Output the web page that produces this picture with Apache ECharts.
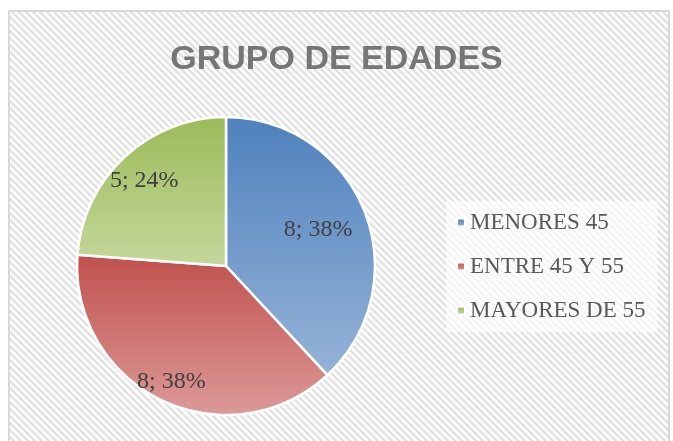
<!DOCTYPE html>
<html>
<head>
<meta charset="utf-8">
<script src="https://cdn.jsdelivr.net/npm/echarts@6/dist/echarts.min.js"></script>
<style>
  html, body { margin: 0; padding: 0; background: #fff; }
  #chart { width: 673px; height: 441px; }
</style>
</head>
<body>
<div id="chart"></div>
<script>
// datos del grafico
var categorias = ['MENORES 45', 'ENTRE 45 Y 55', 'MAYORES DE 55'];
var valores = [8, 8, 5];

// fondo rayado
var tile = document.createElement('canvas');
tile.width = 7;
tile.height = 7;
var ctx = tile.getContext('2d');
ctx.fillStyle = '#ffffff';
ctx.fillRect(0, 0, 7, 7);
ctx.strokeStyle = '#e2e2e2';
ctx.lineWidth = 2.4;
ctx.beginPath();
ctx.moveTo(-1, -1); ctx.lineTo(8, 8);
ctx.moveTo(-8, -1); ctx.lineTo(1, 8);
ctx.moveTo(6, -1); ctx.lineTo(15, 8);
ctx.stroke();

function grad(a, b) {
    return {
        type: 'linear', x: 0, y: 0, x2: 0, y2: 1,
        colorStops: [{ offset: 0, color: a }, { offset: 1, color: b }]
    };
}
var colores = [
    grad('#4f81bd', '#95b3d7'),
    grad('#c0504d', '#dc9a98'),
    grad('#9bbb59', '#c4d79c')
];

// desplazamiento de etiquetas (estilo Excel)
var ajuste = [[20, -8], [-21, 46], [-29, -28]];

var chart = echarts.init(document.getElementById('chart'));

var option = {
    animation: false,
    graphic: [{
        type: 'rect',
        z: -10,
        shape: { x: 9, y: 11, width: 660, height: 440 },
        style: { fill: { image: tile, repeat: 'repeat' }, stroke: '#d9d9d9', lineWidth: 2 }
    }],
    title: {
        text: 'GRUPO DE EDADES',
        left: 'center',
        top: 38,
        textStyle: {
            fontFamily: 'Liberation Sans',
            fontWeight: 'bold',
            fontSize: 34,
            color: '#767676'
        }
    },
    legend: {
        orient: 'vertical',
        left: 446,
        top: 201,
        padding: [10, 12, 10, 10],
        backgroundColor: 'rgba(255,255,255,0.65)',
        itemWidth: 8,
        itemHeight: 8,
        itemGap: 21,
        itemTextGap: 11,
        data: categorias,
        textStyle: {
            fontFamily: 'Liberation Serif',
            fontSize: 23,
            color: '#595959'
        }
    },
    series: [{
        type: 'pie',
        center: [226, 266],
        radius: 149,
        startAngle: 90,
        clockwise: true,
        percentPrecision: 0,
        itemStyle: { borderColor: '#ffffff', borderWidth: 2.5 },
        label: {
            position: 'inside',
            formatter: '{c}; {d}%',
            fontFamily: 'Liberation Serif',
            fontSize: 24,
            color: '#404040'
        },
        labelLayout: function (p) {
            return { dx: ajuste[p.dataIndex][0], dy: ajuste[p.dataIndex][1] };
        },
        emphasis: { disabled: true },
        data: categorias.map(function (c, i) {
            return { name: c, value: valores[i], itemStyle: { color: colores[i] } };
        })
    }]
};

chart.setOption(option);
</script>
</body>
</html>
